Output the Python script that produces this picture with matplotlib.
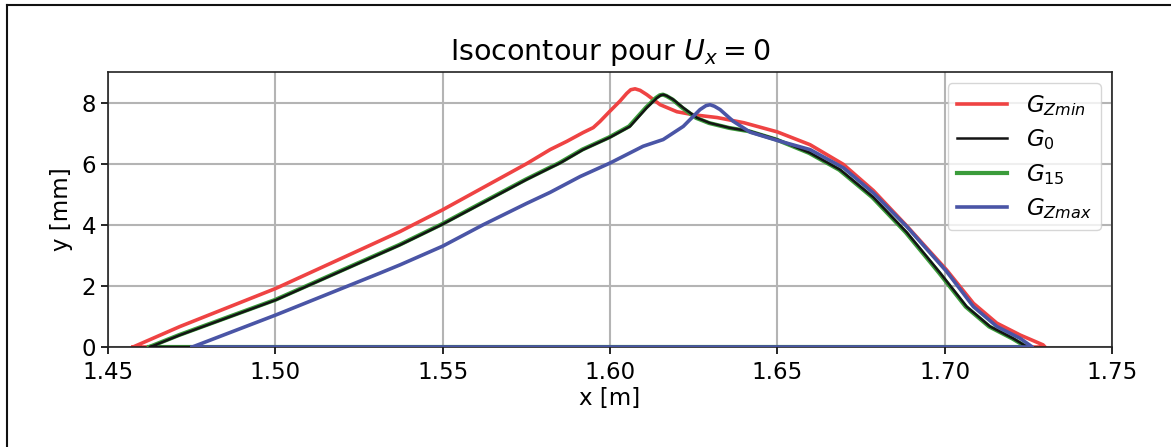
import numpy as np
import matplotlib.pyplot as plt
from matplotlib.lines import Line2D

# isocontour U_x = 0, points along the upper arc (x in m, y in mm)
x_zmin = [1.4575, 1.4715, 1.5002, 1.5373, 1.5412, 1.55, 1.5751, 1.5821, 1.5871,
          1.592, 1.595, 1.597, 1.600, 1.603, 1.605, 1.6062, 1.6075, 1.609, 1.611,
          1.615, 1.620, 1.625, 1.632, 1.640, 1.650, 1.6598, 1.6697, 1.6787, 1.6887,
          1.7006, 1.7086, 1.7156, 1.7226, 1.7294, 1.730]
y_zmin = [0.0, 0.67, 1.92, 3.78, 4.0, 4.49, 6.0, 6.46, 6.73,
          7.02, 7.18, 7.38, 7.72, 8.05, 8.30, 8.42, 8.45, 8.40, 8.26,
          7.93, 7.70, 7.60, 7.51, 7.34, 7.04, 6.62, 5.98, 5.12, 3.96,
          2.52, 1.43, 0.78, 0.39, 0.07, 0.0]

x_g0 = [1.4626, 1.4715, 1.5002, 1.5373, 1.5497, 1.5751, 1.5821, 1.5851, 1.592,
        1.600, 1.606, 1.611, 1.614, 1.6152, 1.616, 1.617, 1.6189, 1.6219, 1.626,
        1.6299, 1.6359, 1.6419, 1.650, 1.6598, 1.6688, 1.6787, 1.6887, 1.6987,
        1.7066, 1.7136, 1.7205, 1.7247]
y_g0 = [0.0, 0.39, 1.54, 3.34, 4.0, 5.48, 5.86, 6.02, 6.46,
        6.86, 7.22, 7.83, 8.15, 8.24, 8.26, 8.22, 8.10, 7.83, 7.50,
        7.33, 7.17, 7.06, 6.79, 6.35, 5.80, 4.90, 3.75, 2.42,
        1.32, 0.67, 0.28, 0.0]

x_g15 = [1.4623, 1.4712, 1.4999, 1.5370, 1.5494, 1.5748, 1.5818, 1.5848, 1.5917,
         1.5997, 1.6057, 1.6107, 1.6137, 1.6149, 1.6158, 1.6168, 1.6187, 1.6216,
         1.6257, 1.6296, 1.6356, 1.6416, 1.6497, 1.6595, 1.6685, 1.6784, 1.6884,
         1.6984, 1.7063, 1.7133, 1.7202, 1.7245]
y_g15 = y_g0

x_zmax = [1.4752, 1.5002, 1.5313, 1.5373, 1.55, 1.5621, 1.5751, 1.5821, 1.5911,
          1.600, 1.6099, 1.6159, 1.6219, 1.6269, 1.6287, 1.6299, 1.6312, 1.6329,
          1.6368, 1.6419, 1.650, 1.6598, 1.6698, 1.6787, 1.6887, 1.7006, 1.7086,
          1.7156, 1.7226, 1.7262]
y_zmax = [0.0, 1.05, 2.42, 2.69, 3.30, 4.0, 4.70, 5.06, 5.58,
          6.02, 6.57, 6.79, 7.22, 7.77, 7.90, 7.93, 7.88, 7.77,
          7.39, 7.03, 6.76, 6.46, 5.86, 5.04, 3.94, 2.47, 1.32,
          0.67, 0.28, 0.0]

labels = [r'$G_{Zmin}$', r'$G_0$', r'$G_{15}$', r'$G_{Zmax}$']
colors = ['#ef4343', '#141414', '#3b9c3b', '#4a55a6']
widths = [2.6, 1.8, 3.0, 2.6]
zorders = [2, 4, 3, 5]

FS = 16.5


def closed(x, y):
    # contour closes back along the wall (y = 0)
    return np.append(x, x[0]), np.append(y, y[0])


fig = plt.figure(figsize=(11.71, 4.47), dpi=100)
ax = fig.add_axes([0.0922, 0.2237, 0.8574, 0.6152])

curves = [(x_zmin, y_zmin), (x_g0, y_g0), (x_g15, y_g15), (x_zmax, y_zmax)]
for (x, y), lab, c, lw, z in zip(curves, labels, colors, widths, zorders):
    xc, yc = closed(np.array(x), np.array(y))
    ax.plot(xc, yc, color=c, lw=lw, label=lab, zorder=z,
            solid_joinstyle='round')

xt = np.arange(1.45, 1.76, 0.05)
ax.set_xlim(1.45, 1.75)
ax.set_ylim(0, 9)
ax.set_xticks(xt)
ax.set_yticks([0, 2, 4, 6, 8])
ax.set_xticklabels(['%.2f' % v for v in xt])
ax.tick_params(labelsize=FS, length=5, width=1.2)
ax.tick_params(axis='x', pad=5)
ax.grid(True, color='#b4b4b4', lw=1.5)
ax.set_axisbelow(True)
for s in ax.spines.values():
    s.set_linewidth(1.2)
    s.set_color('#222222')

ax.set_xlabel('x [m]', fontsize=FS, labelpad=2)
ax.set_ylabel('y [mm]', fontsize=FS, labelpad=6)
ax.set_title(r'Isocontour pour $U_x = 0$', fontsize=20.5, pad=9)

leg = ax.legend(loc='upper right', fontsize=FS, handlelength=2.2,
                handletextpad=0.8, borderaxespad=0.5, labelspacing=0.42)
leg.get_frame().set_linewidth(1.0)

# frame around the figure (left and top edges)
fig.add_artist(Line2D([6.5 / 1171, 6.5 / 1171], [0, 1 - 4.5 / 447],
                      color='#111111', lw=1.5, transform=fig.transFigure))
fig.add_artist(Line2D([6.5 / 1171, 1], [1 - 4.5 / 447, 1 - 4.5 / 447],
                      color='#111111', lw=1.5, transform=fig.transFigure))

fig.savefig('out.png', dpi=100)
